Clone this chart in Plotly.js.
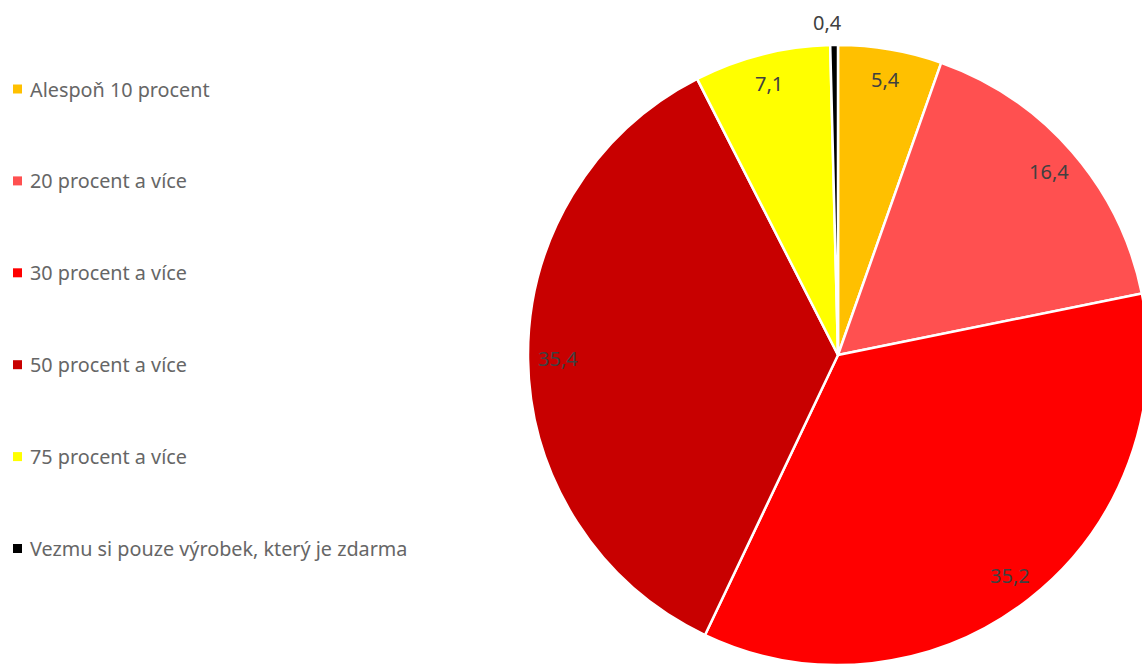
<!DOCTYPE html>
<html>
<head>
<meta charset="utf-8">
<script src="https://cdn.plot.ly/plotly-3.0.1.min.js"></script>
<style>
html,body{margin:0;padding:0;overflow:hidden;background:#fff;width:1142px;height:666px;}
#chart{width:1160px;height:666px;}
</style>
</head>
<body>
<div id="chart"></div>
<script>
const categories = [
  "Alespoň 10 procent",
  "20 procent a více",
  "30 procent a více",
  "50 procent a více",
  "75 procent a více",
  "Vezmu si pouze výrobek, který je zdarma"
];
const values = [5.4, 16.4, 35.2, 35.4, 7.1, 0.4];
const colors = ["#FFC000", "#FF5050", "#FF0000", "#C80000", "#FFFF00", "#000000"];

const W = 1160, H = 666;
const cx = 838, cy = 355, R = 310;

const fmt = v => v.toFixed(1).replace('.', ',');

const trace = {
  type: 'pie',
  labels: categories,
  values: values,
  sort: false,
  direction: 'clockwise',
  rotation: 0,
  marker: {colors: colors, line: {color: '#FFFFFF', width: 2.5}},
  textinfo: 'none',
  hoverinfo: 'label+value',
  showlegend: false,
  domain: {x: [(cx - R) / W, (cx + R) / W], y: [1 - (cy + R) / H, 1 - (cy - R) / H]}
};

const total = values.reduce((a, b) => a + b, 0);
const annotations = [];
const shapes = [];
let cum = 0;
values.forEach((v, i) => {
  const mid = (cum + v / 2) / total * 2 * Math.PI;
  cum += v;
  const small = v < 1;
  const r = small ? 333 : 280;
  const px = cx + r * Math.sin(mid) - (small ? 6 : 0);
  const py = cy - r * Math.cos(mid);
  annotations.push({
    xref: 'paper', yref: 'paper', x: px / W, y: 1 - py / H,
    xanchor: 'center', yanchor: 'middle', showarrow: false,
    text: fmt(v),
    font: {family: 'Noto Sans, Open Sans, sans-serif', size: 20, color: '#404040'}
  });
});

// legend built from categories
const legendTop = 89, legendStep = 91.9;
categories.forEach((c, i) => {
  const ly = legendTop + i * legendStep;
  shapes.push({
    type: 'rect', xref: 'paper', yref: 'paper',
    x0: 13 / W, x1: 22 / W, y0: 1 - (ly + 4.5) / H, y1: 1 - (ly - 4.5) / H,
    fillcolor: colors[i], line: {width: 0}
  });
  annotations.push({
    xref: 'paper', yref: 'paper', x: 28 / W, y: 1 - ly / H,
    xanchor: 'left', yanchor: 'middle', showarrow: false,
    text: c,
    font: {family: 'Noto Sans, Open Sans, sans-serif', size: 19.8, color: '#666666'}
  });
});

const layout = {
  width: W, height: H,
  margin: {l: 0, r: 0, t: 0, b: 0},
  paper_bgcolor: '#FFFFFF',
  plot_bgcolor: '#FFFFFF',
  separators: ', ',
  showlegend: false,
  annotations: annotations,
  shapes: shapes
};

Plotly.newPlot('chart', [trace], layout, {displayModeBar: false, staticPlot: true});
</script>
</body>
</html>
